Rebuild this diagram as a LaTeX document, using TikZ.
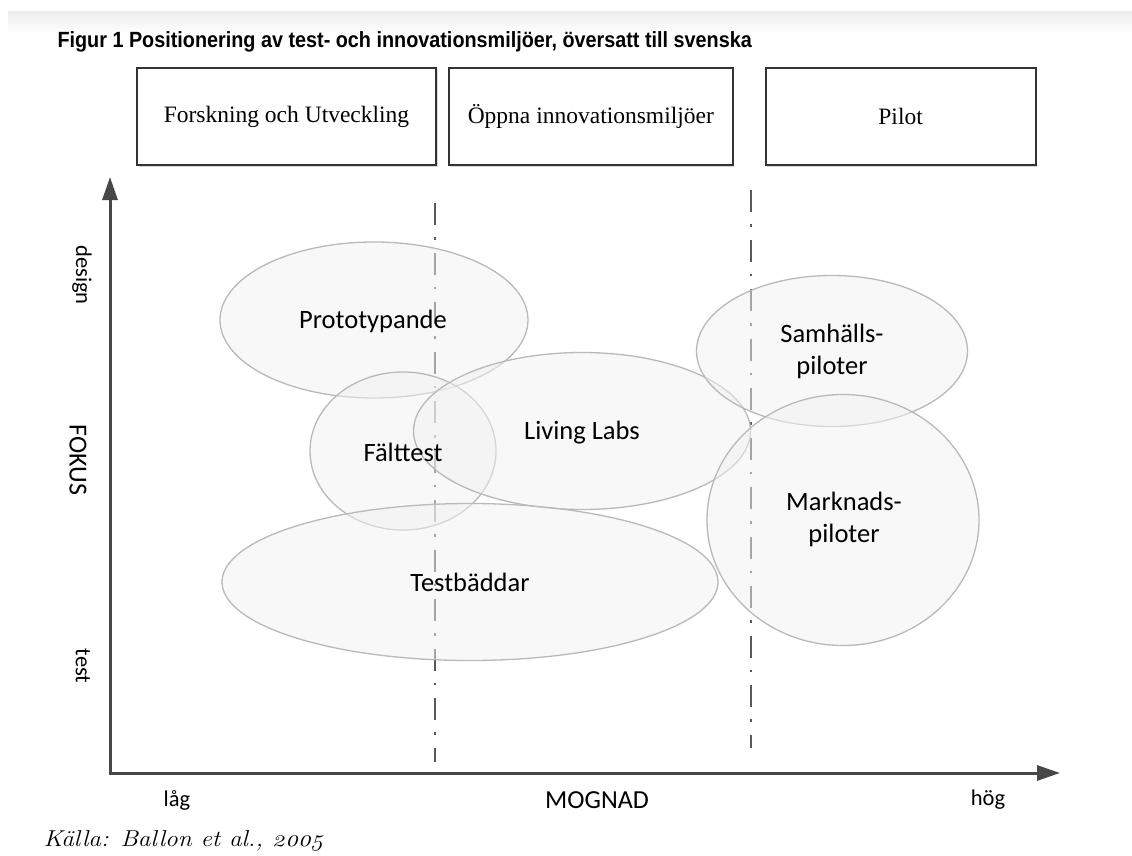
\documentclass[tikz,border=0pt]{standalone}
\usepackage{fontspec}
\setmainfont{Liberation Serif}
\newfontfamily\calfont{Carlito}
\newfontfamily\titlefont[FakeStretch=0.9]{Liberation Sans}
\newfontfamily\srcfont[Numbers=OldStyle, FakeStretch=1.1]{Latin Modern Roman}
\usepackage{tikz}
\usetikzlibrary{shapes.geometric, arrows.meta, positioning, shadows}

\begin{document}
\begin{tikzpicture}[
    x=1pt, y=-1pt,
    phase/.style={
        draw=black!80, line width=1.8pt, rectangle,
        minimum height=97pt, inner sep=0pt,
        font=\fontsize{23.5}{26}\selectfont, fill=white,
        drop shadow={shadow xshift=1.5pt, shadow yshift=-1.5pt, opacity=0.3}
    },
    area/.style={
        ellipse, draw=gray!55, line width=1.3pt, inner sep=0pt,
        fill=gray!10, fill opacity=0.5
    },
    arealabel/.style={font=\calfont\fontsize{26.5}{32}\selectfont, align=center},
    axislabel/.style={font=\calfont\fontsize{22.5}{26}\selectfont},
    axisname/.style={font=\calfont\fontsize{26}{30}\selectfont},
    axis/.style={line width=3pt, draw=black!72, line join=miter,
        {Triangle[length=23pt, width=15pt]}-{Triangle[length=23pt, width=15pt]}},
    border/.style={line width=2.2pt, draw=black!65,
        dash pattern=on 22pt off 12pt on 2.5pt off 13pt}
]

% --- Page and title band
\fill [white] (0,0) rectangle (1132,856);
\shade [top color=gray!14, bottom color=white] (8,12) rectangle (1132,34);
\node (title) [anchor=base west, font=\titlefont\bfseries\fontsize{22}{25}\selectfont]
    at (54,48) {Figur 1 Positionering av test- och innovationsmiljöer, översatt till svenska};

% --- Row of phases (left to right)
\node (fou)   [phase, minimum width=299pt] at (286.5,116.5) {Forskning och Utveckling};
\node (open)  [phase, minimum width=284pt, right=11pt of fou]  {Öppna innovationsmiljöer};
\node (pilot) [phase, minimum width=270pt, right=31pt of open] {Pilot};

% --- Phase borders (dash-dot)
\coordinate (lowTop)  at (435,203);
\coordinate (lowBot)  at (435,762);
\coordinate (highTop) at (751,190);
\coordinate (highBot) at (751,748);
\draw [border] (lowTop)  -- (lowBot);
\draw [border] (highTop) -- (highBot);

% --- Axes
\coordinate (origin) at (110,773);
\coordinate (ytip)   at (110,177);
\coordinate (xtip)   at (1060,773);
\draw [axis] (ytip) -- (origin) -- (xtip);

% --- Environments
\node (proto)  [area, minimum width=308pt, minimum height=156pt] at (374,320) {};
\node (falt)   [area, minimum width=186pt, minimum height=158pt] at (403,451) {};
\node (living) [area, minimum width=337pt, minimum height=157pt] at (582,431) {};
\node (testb)  [area, minimum width=496pt, minimum height=157pt] at (470,582) {};
\node (samh)   [area, minimum width=271pt, minimum height=151pt] at (832,351) {};
\node (markn)  [area, minimum width=272pt, minimum height=251pt] at (843,520) {};

\node (protoText)  [arealabel] at (373,321) {Prototypande};
\node (faltText)   [arealabel] at (403,452) {Fälttest};
\node (livingText) [arealabel] at (582,433) {Living Labs};
\node (testbText)  [arealabel] at (470,582) {Testbäddar};
\node (samhText)   [arealabel] at (832,351) {Samhälls-\\piloter};
\node (marknText)  [arealabel] at (844,519) {Marknads-\\piloter};

% --- Axis labels
\node (design) [axislabel, rotate=-90] at (82,275) {design};
\node (fokus)  [axisname,  rotate=-90] at (78,460) {FOKUS};
\node (test)   [axislabel, rotate=-90] at (83,666) {test};
\node (low)    [axislabel] at (177,800) {låg};
\node (mognad) [axisname]  at (597,800) {MOGNAD};
\node (high)   [axislabel] at (988,800) {hög};

% --- Source
\node (source) [anchor=base west, font=\srcfont\itshape\fontsize{23}{26}\selectfont]
    at (40,846) {Källa: Ballon et al., 2005};

\end{tikzpicture}
\end{document}
